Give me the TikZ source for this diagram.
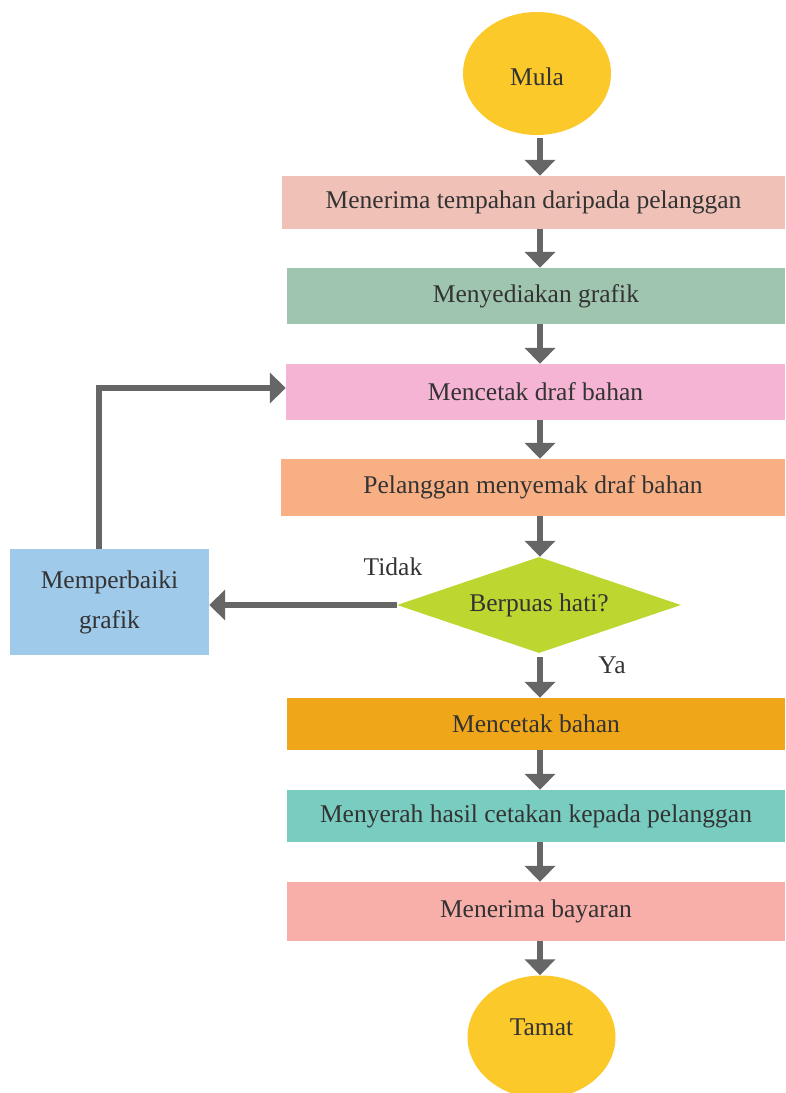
\documentclass[tikz,border=0pt]{standalone}
\usepackage{fontspec}
\setmainfont{Liberation Serif}
\usetikzlibrary{arrows.meta,shapes.geometric}
\definecolor{txt}{HTML}{333333}
\definecolor{arrc}{HTML}{666666}
\definecolor{cyel}{HTML}{FBC92A}
\definecolor{c1}{HTML}{F0C2B7}
\definecolor{c2}{HTML}{9FC5AF}
\definecolor{c3}{HTML}{F5B4D4}
\definecolor{c4}{HTML}{F9AF84}
\definecolor{cdia}{HTML}{BDD630}
\definecolor{cfix}{HTML}{9FCAEA}
\definecolor{c5}{HTML}{F0A619}
\definecolor{c6}{HTML}{79CCC0}
\definecolor{c7}{HTML}{F8AFA9}
\begin{document}
\begin{tikzpicture}[x=1pt,y=-1pt,
  every node/.style={text=txt,font=\fontsize{25.5}{32}\selectfont},
  boxn/.style={rectangle,inner sep=0pt,minimum width=#1},
  term/.style={ellipse,fill=cyel,minimum width=148pt,minimum height=123pt,inner sep=0pt},
  arr/.style={draw=arrc,line width=6pt,-{Triangle[width=30pt,length=16pt]}},
  lbl/.style={inner sep=0pt}]
\useasboundingbox (0,0) rectangle (785,1093);
\node[term,text height=24pt] (mula) at (537,73.5) {Mula};
\node[boxn=503pt,fill=c1,minimum height=53pt] (b1) at (533.5,202.5) {Menerima tempahan daripada pelanggan};
\node[boxn=498pt,fill=c2,minimum height=56pt] (b2) at (536,296) {Menyediakan grafik};
\node[boxn=499pt,fill=c3,minimum height=56pt] (b3) at (535.5,392) {Mencetak draf bahan};
\node[boxn=504pt,fill=c4,minimum height=57pt] (b4) at (533,487.5) {Pelanggan menyemak draf bahan};
\node[diamond,fill=cdia,minimum width=284pt,minimum height=96pt,aspect=2.96,inner sep=0pt] (dia) at (539,605) {Berpuas hati?};
\node[boxn=199pt,fill=cfix,minimum height=106pt,align=center] (fix) at (109.5,602) {Memperbaiki\\[8pt]grafik};
\node[boxn=498pt,fill=c5,minimum height=52pt] (b5) at (536,724) {Mencetak bahan};
\node[boxn=498pt,fill=c6,minimum height=52pt] (b6) at (536,816) {Menyerah hasil cetakan kepada pelanggan};
\node[boxn=498pt,fill=c7,minimum height=59pt] (b7) at (536,911.5) {Menerima bayaran};
\node[term,text depth=20pt] (tamat) at (541.5,1037) {Tamat};
\node[lbl] (tidak) at (393,567) {Tidak};
\node[lbl] (ya) at (612,665) {Ya};
\coordinate (ax) at (540,0);
\draw[arr] (ax |- mula.south) ++(0,3) -- (ax |- b1.north);
\draw[arr] (ax |- b1.south) -- (ax |- b2.north);
\draw[arr] (ax |- b2.south) -- (ax |- b3.north);
\draw[arr] (ax |- b3.south) -- (ax |- b4.north);
\draw[arr] (ax |- b4.south) -- (ax |- dia.north);
\draw[arr] ([yshift=-4pt]ax |- dia.south) -- (ax |- b5.north);
\draw[arr] (ax |- b5.south) -- (ax |- b6.north);
\draw[arr] (ax |- b6.south) -- (ax |- b7.north);
\draw[arr] (ax |- b7.south) -- (ax |- tamat.north);
\draw[arr] (dia.west) -- (dia.west -| fix.east);
\draw[arr] ([xshift=-10.5pt]fix.north) |- ([yshift=4pt]b3.west);
\end{tikzpicture}
\end{document}
